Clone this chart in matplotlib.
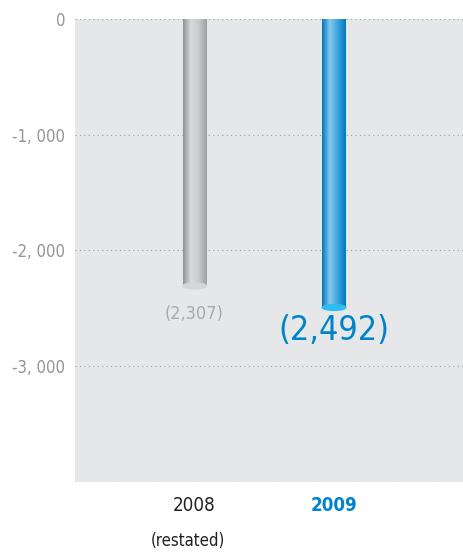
import numpy as np
import matplotlib
matplotlib.use("Agg")
import matplotlib.pyplot as plt
from matplotlib.colors import LinearSegmentedColormap
from matplotlib.patches import Ellipse

plt.rcParams['font.family'] = ['DejaVu Sans']
plt.rcParams['font.stretch'] = 'condensed'

years = ["2008", "2009"]
values = [-2307, -2492]
value_labels = ["(2,307)", "(2,492)"]
y_ticks = [0, -1000, -2000, -3000, -4000]
y_tick_labels = ["0", "-1, 000", "-2, 000", "-3, 000", ""]

GRAY = "#a7a9ac"
BLUE = "#0083ca"

fig = plt.figure(figsize=(4.63, 5.55), dpi=100)
ax = fig.add_axes([0.162, 0.1315, 0.838, 0.8343])
ax.set_facecolor("#e6e7e9")

for s in ax.spines.values():
    s.set_visible(False)

# dotted grid lines
for t in y_ticks:
    ax.axhline(t, color="#9d9fa2", linestyle=(0, (1, 3)), linewidth=0.8, zorder=1)

# cylinder shading for each bar
cmaps = [
    LinearSegmentedColormap.from_list("g", ["#8f9194", "#d9dadb", "#c8c9cb", "#9c9ea1"]),
    LinearSegmentedColormap.from_list("b", ["#0075bb", "#86c8ee", "#3aa3dd", "#0079c0"]),
]
cap_colors = ["#d5d6d8", "#2bbdf0"]
x = np.arange(len(years))
bars = ax.bar(x, values, width=0.17, color="none", zorder=2)
grad = np.linspace(0, 1, 256).reshape(1, -1)
for b, cm, cap in zip(bars, cmaps, cap_colors):
    x0, w, h = b.get_x(), b.get_width(), b.get_height()
    im = ax.imshow(grad, cmap=cm, aspect="auto", extent=[x0, x0 + w, h, 0], zorder=3)
    im.set_clip_path(b)
    ax.add_patch(Ellipse((x0 + w / 2, h), w, 50, color=cap, zorder=4))

ax.set_xlim(-0.857, 1.925)
ax.set_ylim(-4000, 0)

ax.text(x[0], values[0] - 160, value_labels[0], ha="center", va="top",
        fontsize=13, color=GRAY)
ax.text(x[1], values[1] - 55, value_labels[1], ha="center", va="top",
        fontsize=24.5, color=BLUE)

ax.set_yticks(y_ticks)
ax.set_yticklabels(y_tick_labels, fontsize=12, color="#939598")
ax.set_xticks(x)
ax.set_xticklabels(years, fontsize=13.5)
ax.tick_params(length=0)
ax.tick_params(axis="y", pad=7)
ax.tick_params(axis="x", pad=10)
lbls = ax.get_xticklabels()
lbls[0].set_color("#231f20")
lbls[1].set_color(BLUE)
lbls[1].set_fontweight("bold")
ax.text(x[0] - 0.05, -4000 - 430, "(restated)", ha="center", va="top",
        fontsize=12, color="#231f20")

fig.savefig("out.png", dpi=100)
